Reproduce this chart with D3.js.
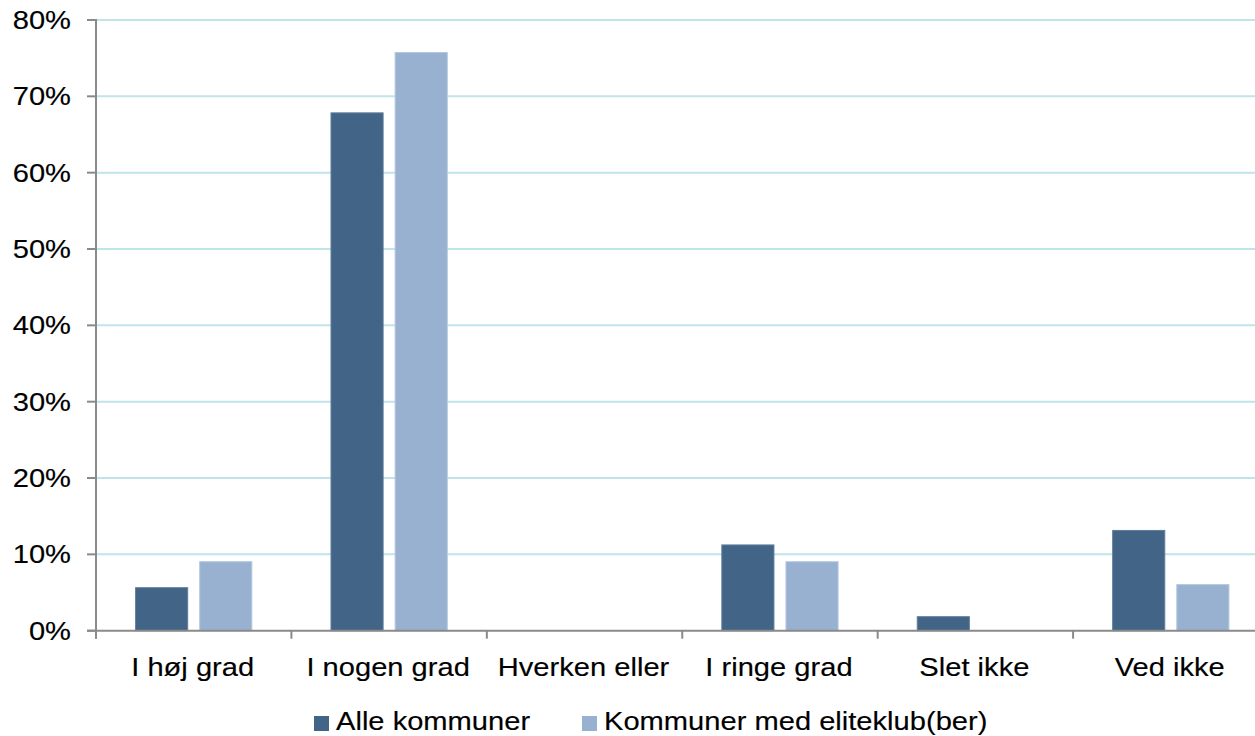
<!DOCTYPE html>
<html>
<head>
<meta charset="utf-8">
<script src="https://cdn.jsdelivr.net/npm/d3@7"></script>
<style>
  html, body { margin: 0; padding: 0; background: #fff; }
  svg { display: block; }
  text { font-family: "Liberation Sans", Arial, sans-serif; fill: #000; stroke: #000; stroke-width: 0.15px; }
</style>
</head>
<body>
<svg id="chart" width="1255" height="736"></svg>
<script>
const categories = ["I høj grad", "I nogen grad", "Hverken eller", "I ringe grad", "Slet ikke", "Ved ikke"];
const seriesNames = ["Alle kommuner", "Kommuner med eliteklub(ber)"];
const alleKommuner = [5.7, 67.9, 0, 11.3, 1.9, 13.2];
const eliteKommuner = [9.1, 75.8, 0, 9.1, 0, 6.1];
const yTicks = [0, 10, 20, 30, 40, 50, 60, 70, 80];

const colors = ["#426487", "#98B1D0"];
const strokes = ["#5f7d9c", "#b3c6de"];

const svg = d3.select("#chart");
const FS = 26, SX = 1.12;

const pLeft = 96, pRight = 1268.5, pTop = 20, pBottom = 630.7;

const y = d3.scaleLinear().domain([0, 80]).range([pBottom, pTop]);
const x0 = d3.scaleBand().domain(categories).range([pLeft, pRight]).padding(0);
const bw = x0.bandwidth();
const x1 = d3.scaleBand().domain(seriesNames).range([bw * 0.2, bw * 0.8]).paddingInner(0.172).paddingOuter(0);

function label(g, txt, px, py, anchor) {
  g.append("text")
    .attr("transform", `translate(${px},${py}) scale(${SX},1)`)
    .attr("text-anchor", anchor)
    .attr("font-size", FS)
    .text(txt);
}

// gridlines
svg.append("g").selectAll("line").data(yTicks.filter(d => d > 0)).join("line")
  .attr("x1", pLeft).attr("x2", 1255)
  .attr("y1", d => y(d)).attr("y2", d => y(d))
  .attr("stroke", "#bfe4ea").attr("stroke-width", 2);

// bars
const data = [alleKommuner, eliteKommuner];
const g = svg.append("g");
categories.forEach((c, i) => {
  seriesNames.forEach((s, j) => {
    const v = data[j][i];
    if (v <= 0) return;
    g.append("rect")
      .attr("x", x0(c) + x1(s) + 0.5)
      .attr("y", y(v) + 0.5)
      .attr("width", x1.bandwidth() - 1)
      .attr("height", y(0) - y(v) - 0.5)
      .attr("fill", colors[j])
      .attr("stroke", strokes[j])
      .attr("stroke-width", 1);
  });
});

// y axis
const ya = svg.append("g");
ya.append("line").attr("x1", pLeft).attr("x2", pLeft).attr("y1", pTop - 1).attr("y2", pBottom + 8)
  .attr("stroke", "#8a8a8a").attr("stroke-width", 2);
ya.selectAll("line.t").data(yTicks).join("line").attr("class", "t")
  .attr("x1", 87).attr("x2", pLeft).attr("y1", d => y(d)).attr("y2", d => y(d))
  .attr("stroke", "#8a8a8a").attr("stroke-width", 2);
yTicks.forEach(t => label(ya, t + "%", 71, y(t) + 9, "end"));

// x axis
const xa = svg.append("g");
xa.append("line").attr("x1", pLeft - 9).attr("x2", 1255).attr("y1", pBottom).attr("y2", pBottom)
  .attr("stroke", "#8a8a8a").attr("stroke-width", 2);
const bounds = categories.map(c => x0(c)).concat([pRight]);
xa.selectAll("line.t").data(bounds).join("line").attr("class", "t")
  .attr("x1", d => d).attr("x2", d => d).attr("y1", pBottom).attr("y2", pBottom + 8)
  .attr("stroke", "#8a8a8a").attr("stroke-width", 2);
categories.forEach(c => label(xa, c, x0(c) + bw / 2 - 1, 676, "middle"));

// legend
const lg = svg.append("g");
const legendX = [314, 582];
seriesNames.forEach((s, j) => {
  lg.append("rect").attr("x", legendX[j]).attr("y", 716).attr("width", 15).attr("height", 15)
    .attr("fill", colors[j]);
  label(lg, s, legendX[j] + 22, 730, "start");
});
</script>
</body>
</html>
